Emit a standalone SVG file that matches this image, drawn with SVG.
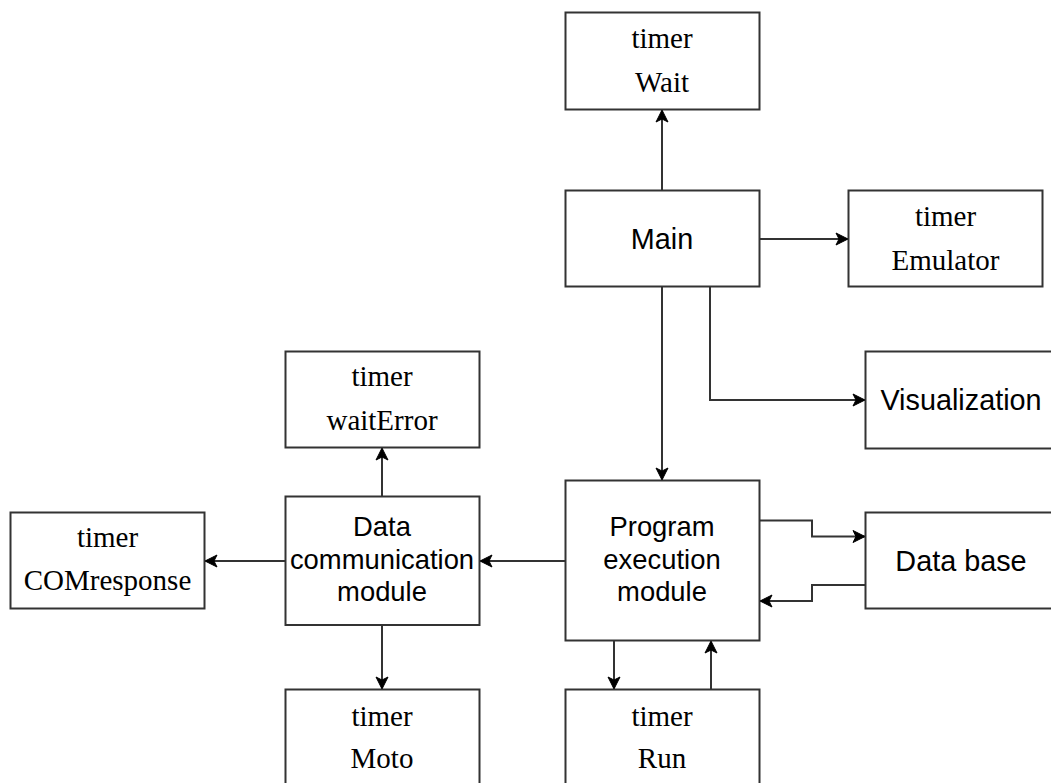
<svg xmlns="http://www.w3.org/2000/svg" width="1051" height="783" viewBox="0 0 1051 783">
<style>
.box{fill:#fff;stroke:#333;stroke-width:2}
.ser{font-family:"Liberation Serif","Times New Roman",serif;font-size:29px;fill:#000;text-anchor:middle}
.san{font-family:"Liberation Sans",Arial,sans-serif;font-size:28.8px;fill:#000;text-anchor:middle}
.san2{font-family:"Liberation Sans",Arial,sans-serif;font-size:27.4px;fill:#000;text-anchor:middle}
.ln{fill:none;stroke:#333;stroke-width:2;marker-end:url(#ah)}
</style>
<defs>
<marker id="ah" markerUnits="userSpaceOnUse" markerWidth="14" markerHeight="14" viewBox="0 0 14 14" refX="13" refY="7" orient="auto">
<path d="M1,1 L13,7 L1,13 L4,7 Z" fill="#000" stroke="#000" stroke-width="1"/>
</marker>
</defs>
<rect width="1051" height="783" fill="#fff"/>
<g id="connectors">
<path class="ln" d="M662,190.5 V110"/>
<path class="ln" d="M759.5,239 H848"/>
<path class="ln" d="M710,286.5 V400 H865"/>
<path class="ln" d="M662,286.5 V480"/>
<path class="ln" d="M759.5,520.5 H812 V536.5 H865"/>
<path class="ln" d="M865,585 H812 V601 H760"/>
<path class="ln" d="M565.5,561 H480"/>
<path class="ln" d="M285.5,561 H205"/>
<path class="ln" d="M382,496.5 V448"/>
<path class="ln" d="M382,625 V689"/>
<path class="ln" d="M614,640.5 V689"/>
<path class="ln" d="M711,689.5 V641"/>
</g>
<g id="wait"><rect class="box" x="565.5" y="12.5" width="194" height="97"/><text class="ser" x="662" y="48">timer</text><text class="ser" x="662" y="92">Wait</text></g>
<g id="main"><rect class="box" x="565.5" y="190.5" width="194" height="96"/><text class="san" x="662" y="248.5">Main</text></g>
<g id="emulator"><rect class="box" x="848.5" y="190.5" width="194" height="96"/><text class="ser" x="945.5" y="225.5">timer</text><text class="ser" x="945.5" y="269.5">Emulator</text></g>
<g id="visualization"><rect class="box" x="865.5" y="351.5" width="194" height="97"/><text class="san" x="961" y="410">Visualization</text></g>
<g id="program"><rect class="box" x="565.5" y="480.5" width="194" height="160"/><text class="san2" x="662" y="536">Program</text><text class="san2" x="662" y="568.5">execution</text><text class="san2" x="662" y="601">module</text></g>
<g id="database"><rect class="box" x="865.5" y="512.5" width="194" height="96"/><text class="san" x="961" y="570.5">Data base</text></g>
<g id="datacomm"><rect class="box" x="285.5" y="496.5" width="194" height="128.5"/><text class="san2" x="382" y="536">Data</text><text class="san2" x="382" y="569">communication</text><text class="san2" x="382" y="601">module</text></g>
<g id="waiterror"><rect class="box" x="285.5" y="351.5" width="194" height="96"/><text class="ser" x="382" y="386">timer</text><text class="ser" x="382" y="430">waitError</text></g>
<g id="comresponse"><rect class="box" x="10.5" y="512.5" width="194" height="96"/><text class="ser" x="107.5" y="546.5">timer</text><text class="ser" x="107.5" y="590">COMresponse</text></g>
<g id="moto"><rect class="box" x="285.5" y="689.5" width="194" height="97"/><text class="ser" x="382" y="726">timer</text><text class="ser" x="382" y="768">Moto</text></g>
<g id="run"><rect class="box" x="565.5" y="689.5" width="194" height="97"/><text class="ser" x="662" y="726">timer</text><text class="ser" x="662" y="768">Run</text></g>
</svg>
